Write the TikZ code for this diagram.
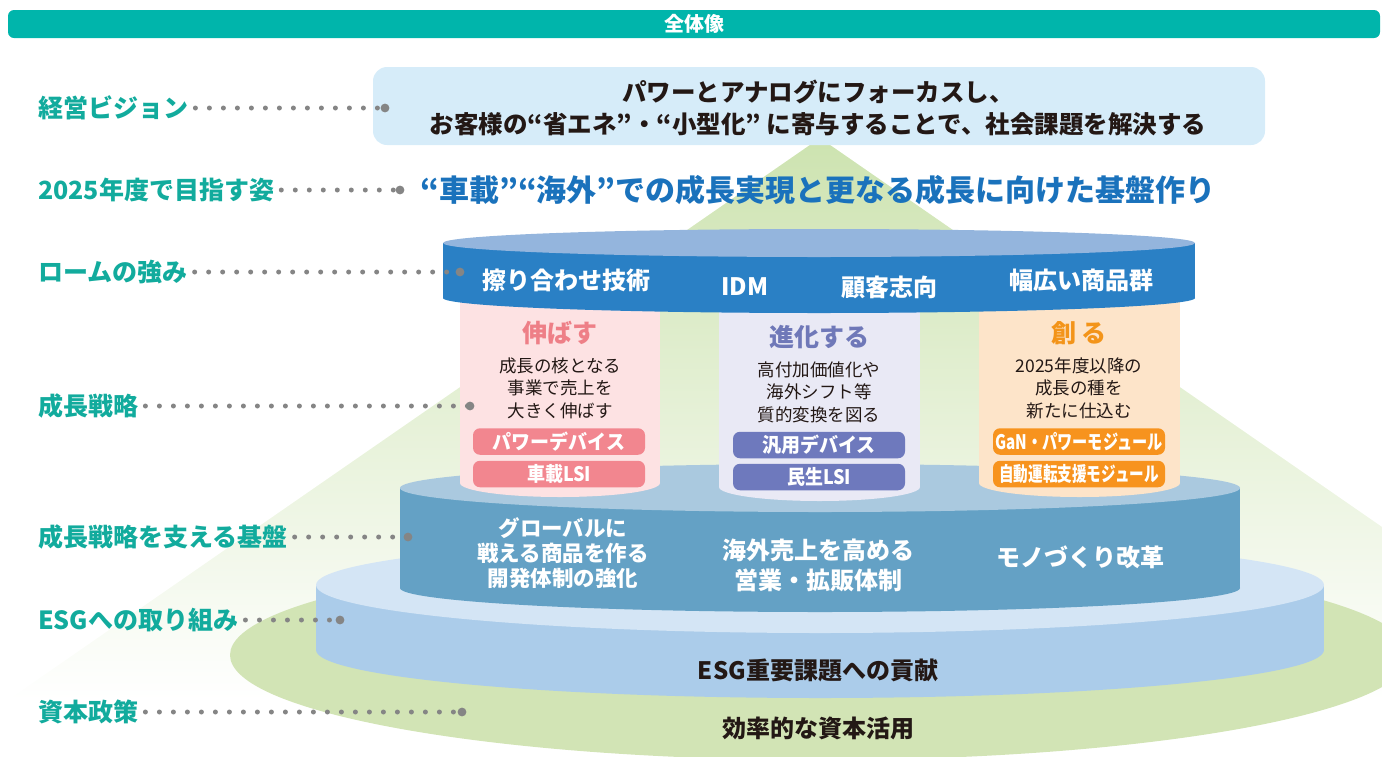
\documentclass[tikz,border=0pt]{standalone}
\usepackage{fontspec}
\setmainfont{Noto Sans CJK JP}
\newcommand\fsz[2]{\fontsize{#1}{#2}\selectfont}
\newcommand\cnd[2]{\scalebox{#1}[1]{#2}}
\definecolor{hdrteal}{HTML}{00B5AB}
\definecolor{labteal}{HTML}{12AB9D}
\definecolor{visionbg}{HTML}{D6ECF9}
\definecolor{darktxt}{HTML}{231815}
\definecolor{bluetxt}{HTML}{1A72BC}
\definecolor{topside}{HTML}{2A80C5}
\definecolor{toptop}{HTML}{94B5DD}
\definecolor{pinkbg}{HTML}{FDE2E3}
\definecolor{pinkttl}{HTML}{EE7F87}
\definecolor{pinktag}{HTML}{F2868F}
\definecolor{lavbg}{HTML}{E9E9F5}
\definecolor{lavttl}{HTML}{6F78B8}
\definecolor{lavtag}{HTML}{6E79BD}
\definecolor{orbg}{HTML}{FDE4C9}
\definecolor{orttl}{HTML}{F39419}
\definecolor{ortag}{HTML}{F7931E}
\definecolor{basetop}{HTML}{AAC9DF}
\definecolor{baseside}{HTML}{64A1C5}
\definecolor{esgtop}{HTML}{D4E5F5}
\definecolor{esgside}{HTML}{ABCCEA}
\definecolor{ellgreen}{HTML}{D2E4B5}
\definecolor{trigreen}{HTML}{CDE3B0}
\definecolor{dotgray}{HTML}{858585}
\begin{document}
\begin{tikzpicture}[x=1pt,y=-1pt,
  lab/.style={anchor=west, text=labteal, font=\bfseries\fsz{25}{28}, inner sep=0pt},
  leader/.style={dotgray, line width=5pt, dash pattern=on 0pt off 14pt, line cap=round},
  enddot/.style={fill=dotgray},
  cyltxt/.style={text=white, font=\bfseries\fsz{24}{28}, inner sep=0pt, align=center},
  tag/.style={rounded corners=7pt, minimum width=172pt, minimum height=26.5pt, inner sep=0pt, text=white, font=\bfseries\fsz{20}{22}},
  ttl/.style={font=\bfseries\fsz{25}{28}, inner sep=0pt},
  body/.style={text=darktxt, font=\fsz{17.5}{22.5}, align=center, inner sep=0pt},
  dark/.style={text=darktxt, font=\bfseries\fsz{24}{28}, inner sep=0pt, align=center}]
\useasboundingbox (0,0) rectangle (1382,756);
\begin{scope}
\clip (0,0) rectangle (1382,756);
% background triangle
\shade[top color=trigreen, bottom color=white] (820,138) -- (1632,700) -- (8,700) -- cycle;
% green base ellipse
\fill[ellgreen] (820,655) ellipse[x radius=590pt, y radius=105pt];
% ESG cylinder
\fill[esgside] (316,585) rectangle (1324,650);
\fill[esgside] (820,650) ellipse[x radius=504pt, y radius=48pt];
\fill[esgtop] (820,585) ellipse[x radius=504pt, y radius=48pt];
% base cylinder
\fill[baseside] (400,488) rectangle (1240,588);
\fill[baseside] (820,588) ellipse[x radius=420pt, y radius=24pt];
\fill[basetop] (820,488) ellipse[x radius=420pt, y radius=24pt];
% pillars
\fill[pinkbg] (460,295) rectangle (660,483);
\fill[pinkbg] (560,483) ellipse[x radius=100pt, y radius=14pt];
\fill[lavbg] (719,295) rectangle (920,487);
\fill[lavbg] (819.5,487) ellipse[x radius=100.5pt, y radius=14pt];
\fill[orbg] (979,295) rectangle (1180,483);
\fill[orbg] (1079.5,483) ellipse[x radius=100.5pt, y radius=14pt];
% top cylinder
\fill[topside] (443,243) rectangle (1195,298);
\fill[topside] (819,298) ellipse[x radius=376pt, y radius=15pt];
\fill[toptop] (819,243) ellipse[x radius=376pt, y radius=14pt];
\end{scope}

% header
\node[fill=hdrteal, rounded corners=6pt, minimum width=1372pt, minimum height=28pt, inner sep=0pt,
      text=white, font=\bfseries\fsz{20}{22}] (header) at (694,24) {全体像};

% vision box
\node[fill=visionbg, rounded corners=14pt, minimum width=892pt, minimum height=78pt, inner sep=0pt] (vbox) at (819,106) {};
\node[dark, font=\bfseries\fsz{24.5}{32}] (vtext) at (818,108) {パワーとアナログにフォーカスし、\\お客様の“省エネ”・“小型化” に寄与することで、社会課題を解決する};

% goal line
\node[text=bluetxt, font=\bfseries\fsz{30}{34}, inner sep=0pt] (goal) at (818,190) {“車載”“海外”での成長実現と更なる成長に向けた基盤作り};

% top cylinder texts
\node[cyltxt] (s1) at (566,280) {擦り合わせ技術};
\node[cyltxt] (s2) at (745,287) {IDM};
\node[cyltxt] (s3) at (889,287) {顧客志向};
\node[cyltxt] (s4) at (1081,280) {幅広い商品群};

% pillar contents
\node[ttl, text=pinkttl] (p1t) at (560,333) {伸ばす};
\node[body] (p1b) at (560,388) {成長の核となる\\事業で売上を\\大きく伸ばす};
\node[tag, fill=pinktag] (p1a) at (559,441.5) {\cnd{0.95}{パワーデバイス}};
\node[tag, fill=pinktag] (p1c) at (559,474) {\cnd{0.9}{車載LSI}};

\node[ttl, text=lavttl] (p2t) at (819,337) {進化する};
\node[body] (p2b) at (819,392) {高付加価値化や\\海外シフト等\\質的変換を図る};
\node[tag, fill=lavtag] (p2a) at (819,445) {\cnd{0.95}{汎用デバイス}};
\node[tag, fill=lavtag] (p2c) at (819,477) {\cnd{0.9}{民生LSI}};

\node[ttl, text=orttl] (p3t) at (1079,333) {創 る};
\node[body] (p3b) at (1079,388) {2025年度以降の\\成長の種を\\新たに仕込む};
\node[tag, fill=ortag] (p3a) at (1079,441.5) {\cnd{0.76}{GaN・パワーモジュール}};
\node[tag, fill=ortag] (p3c) at (1079,474) {\cnd{0.73}{自動運転支援モジュール}};

% base cylinder texts
\node[cyltxt, font=\bfseries\fsz{21.5}{25}] (b1) at (563,553) {グローバルに\\戦える商品を作る\\開発体制の強化};
\node[cyltxt, font=\bfseries\fsz{24}{30}] (b2) at (818,565) {海外売上を高める\\営業・拡販体制};
\node[cyltxt] (b3) at (1080,557) {モノづくり改革};

% lower texts
\node[dark] (esg) at (818,670) {ESG重要課題への貢献};
\node[dark] (cap) at (818,728) {効率的な資本活用};

% left labels
\node[lab] (l1) at (38,108) {経営ビジョン};
\node[lab] (l2) at (38,190) {2025年度で目指す姿};
\node[lab] (l3) at (38,272) {ロームの強み};
\node[lab] (l4) at (38,406) {成長戦略};
\node[lab] (l5) at (38,537) {成長戦略を支える基盤};
\node[lab] (l6) at (38,620) {ESGへの取り組み};
\node[lab] (l7) at (38,712) {資本政策};

\coordinate (e1) at (385,108);
\coordinate (e2) at (400,190);
\coordinate (e3) at (460,272);
\coordinate (e4) at (470,406);
\coordinate (e5) at (408,537);
\coordinate (e6) at (340,620);
\coordinate (e7) at (462,712);

\foreach \i in {1,...,7}{
  \draw[leader] ([xshift=7pt]l\i.east) -- (e\i);
  \fill[enddot] (e\i) circle (4.4pt);
}
\end{tikzpicture}
\end{document}
